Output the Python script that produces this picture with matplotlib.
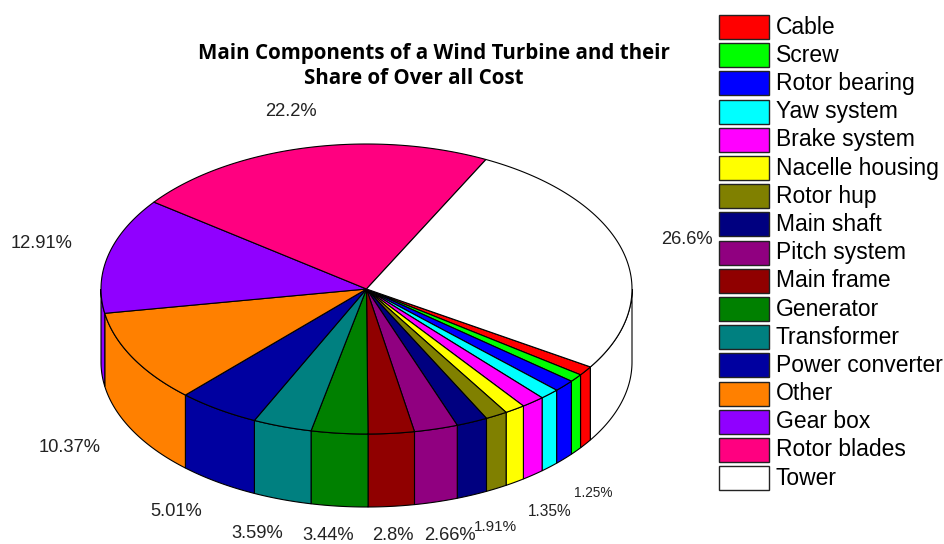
import numpy as np
import matplotlib
matplotlib.use("Agg")
import matplotlib.pyplot as plt
from matplotlib.patches import Polygon, Rectangle

names = ["Cable", "Screw", "Rotor bearing", "Yaw system", "Brake system", "Nacelle housing",
         "Rotor hup", "Main shaft", "Pitch system", "Main frame", "Generator", "Transformer",
         "Power converter", "Other", "Gear box", "Rotor blades", "Tower"]
values = [1.05, 0.89, 1.33, 1.2, 1.44, 1.25, 1.35, 1.91, 2.66, 2.8, 3.44, 3.59, 5.01, 10.37, 12.91, 22.2, 26.6]
colors = ["#ff0000", "#00ff00", "#0000ff", "#00ffff", "#ff00ff", "#ffff00", "#808000", "#000080",
          "#900080", "#900000", "#008000", "#008080", "#0000a0", "#ff8000", "#9000ff", "#ff0080", "#ffffff"]
label_texts = ["1.25%", "1.35%", "1.91%", "2.66%", "2.8%", "3.44%", "3.59%", "5.01%", "10.37%", "12.91%", "22.2%", "26.6%"]
label_x = [593, 550, 495, 450, 393, 328, 257, 176, 70, 42, 291, 687]
label_y = [493, 512, 527, 536, 536, 536, 533, 511, 447, 244, 112, 240]
label_size = [9.8, 11.2, 11, 13.2, 13.2, 13.2, 13.2, 13.2, 13.2, 13.2, 13.2, 13.2]

# pie geometry in pixels
cx, cy = 366.5, 289
rx, ry = 265.5, 145
depth = 73
start = -32.5


def rim(a, b, dy=0):
    t = np.radians(np.linspace(a, b, 80))
    return np.column_stack([cx + rx * np.cos(t), cy - ry * np.sin(t) + dy])


fig = plt.figure(figsize=(9.44, 5.44), dpi=100)
ax = fig.add_axes([0, 0, 1, 1])
ax.set_xlim(0, 944)
ax.set_ylim(544, 0)
ax.axis("off")

lw = 0.8
angles = start - np.cumsum([0] + values) * 3.6

# side wall, only the front half can be seen
for i in range(len(values)):
    a0, a1 = angles[i], angles[i + 1]
    for lo, hi in [(-180, 0), (-540, -360)]:
        top = min(a0, hi)
        bot = max(a1, lo)
        if top > bot:
            upper = rim(top, bot)
            lower = rim(bot, top, depth)
            ax.add_patch(Polygon(np.vstack([upper, lower]), closed=True, fc=colors[i], ec="black", lw=lw))

# top face
for i in range(len(values)):
    pts = np.vstack([[cx, cy], rim(angles[i], angles[i + 1])])
    ax.add_patch(Polygon(pts, closed=True, fc=colors[i], ec="black", lw=lw, joinstyle="round"))

for t, x, y, s in zip(label_texts, label_x, label_y, label_size):
    ax.text(x, y, t, fontsize=s, ha="center", va="center", color="#222222", family="Liberation Sans")

ax.text(433.5, 53, "Main Components of a Wind Turbine and their", fontsize=14.8, fontweight="bold",
        ha="center", va="center", family="Open Sans")
ax.text(413.5, 79, "Share of Over all Cost", fontsize=14.8, fontweight="bold",
        ha="center", va="center", family="Open Sans")

# legend
for i, name in enumerate(names):
    y = 15 + 28.2 * i
    ax.add_patch(Rectangle((719, y), 50, 24, fc=colors[i], ec="#222222", lw=1.0))
    ax.text(776, y + 12, name, fontsize=16.5, ha="left", va="center", family="Liberation Sans")

plt.savefig("out.png", dpi=100)
